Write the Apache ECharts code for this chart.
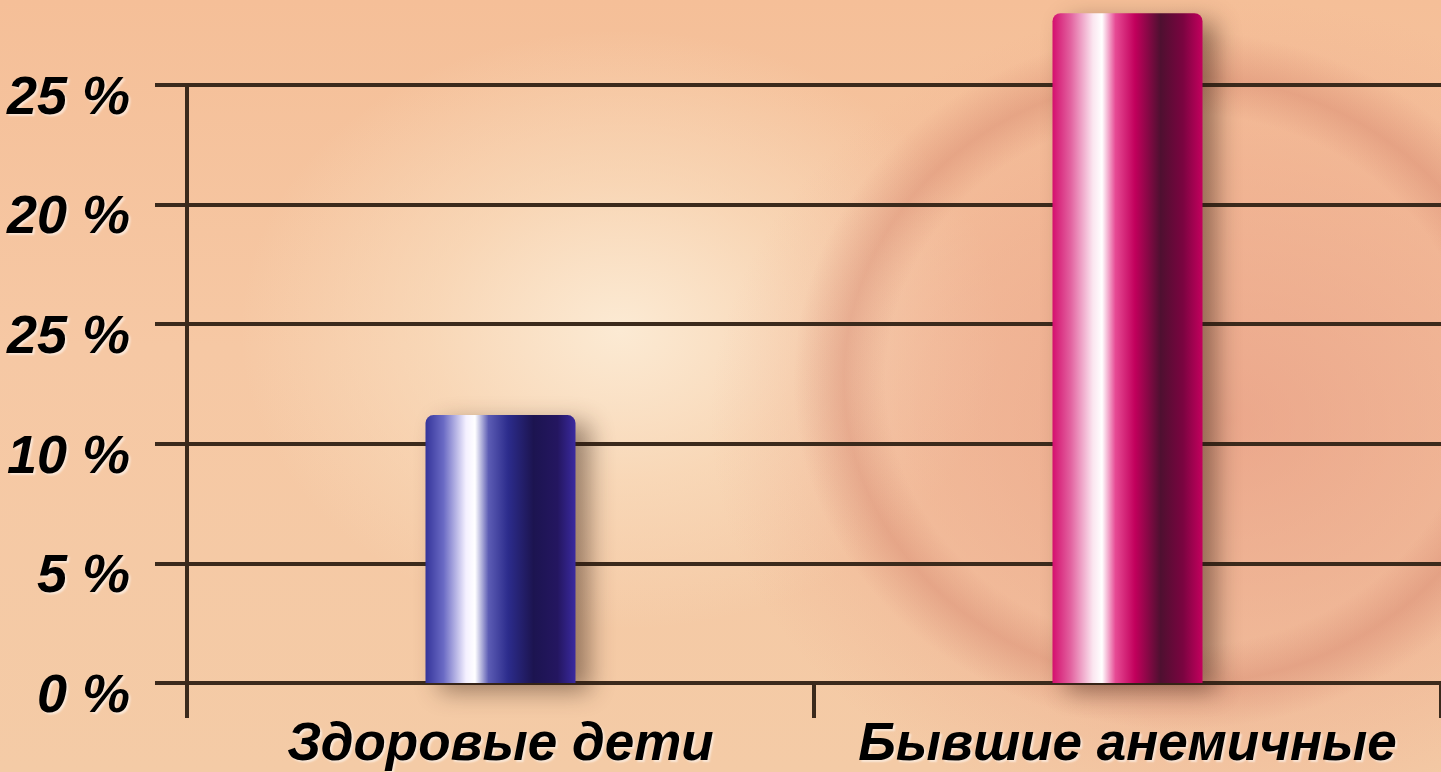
<!DOCTYPE html>
<html>
<head>
<meta charset="utf-8">
<style>
  html, body { margin: 0; padding: 0; }
  #chart {
    width: 1441px; height: 772px;
    background:
      radial-gradient(ellipse 420px 380px at 1180px 380px, rgba(215,120,110,0.0) 70%, rgba(200,110,90,0.3) 80%, rgba(230,150,120,0) 92%),
      radial-gradient(ellipse 520px 420px at 1230px 420px, rgba(225,135,115,0.5) 0%, rgba(232,150,125,0.32) 60%, rgba(240,175,140,0) 100%),
      radial-gradient(ellipse 380px 300px at 620px 330px, rgba(252,236,214,0.95) 0%, rgba(250,225,195,0.6) 50%, rgba(246,200,165,0) 100%),
      linear-gradient(180deg, #f5bf98 0%, #f6c8a4 45%, #f4cba6 100%);
  }
</style>
<script src="https://cdn.jsdelivr.net/npm/echarts@6/dist/echarts.min.js"></script>
</head>
<body>
<div id="chart"></div>
<script>
// категории и значения
var groups = ['Здоровые дети', 'Бывшие анемичные'];
var percents = [11.2, 28];
// подписи оси как на слайде (третья подпись с опечаткой)
var tickLabels = ['0 %', '5 %', '10 %', '25 %', '20 %', '25 %'];
var tickValues = [0, 5, 10, 15, 20, 25];

var lineColor = '#3b2a1c';

function cylinder(stops) {
    return new echarts.graphic.LinearGradient(0, 0, 1, 0, stops.map(function (c) {
        return { offset: c[0], color: c[1] };
    }));
}

var blueBar = cylinder([
    [0, '#34349a'], [0.12, '#6a6ac4'], [0.27, '#f4f0ff'], [0.33, '#ffffff'],
    [0.42, '#5c5cb4'], [0.55, '#2c2c8c'], [0.72, '#1c1450'], [0.88, '#241660'], [1, '#3a2aa0']
]);
var pinkBar = cylinder([
    [0, '#d40f6e'], [0.12, '#e2619f'], [0.27, '#fbe6f0'], [0.33, '#ffffff'],
    [0.42, '#e64a94'], [0.55, '#c2005c'], [0.72, '#4e1030'], [0.87, '#7a0440'], [1, '#c4005e']
]);

var chart = echarts.init(document.getElementById('chart'), null, { renderer: 'canvas' });

var labelFont = {
    fontFamily: '"Liberation Sans", Arial, sans-serif',
    fontWeight: 'bold',
    fontStyle: 'italic',
    color: '#000',
    textShadowColor: 'rgba(255,255,255,0.55)',
    textShadowOffsetX: 2,
    textShadowOffsetY: 2,
    textShadowBlur: 2
};

var option = {
    backgroundColor: 'transparent',
    animation: false,
    grid: { left: 187, right: 0, top: 85, bottom: 83, containLabel: false },
    xAxis: {
        type: 'category',
        data: groups,
        boundaryGap: true,
        axisLine: { lineStyle: { color: lineColor, width: 4 } },
        axisTick: { show: true, length: 35, lineStyle: { color: lineColor, width: 4 } },
        axisLabel: Object.assign({ fontSize: 53, margin: 36, interval: 0, hideOverlap: false }, labelFont)
    },
    yAxis: {
        type: 'value',
        min: 0,
        max: 25,
        interval: 5,
        axisLine: { show: true, lineStyle: { color: lineColor, width: 4 } },
        axisTick: { show: true, length: 32, lineStyle: { color: lineColor, width: 4 } },
        splitLine: { lineStyle: { color: lineColor, width: 4 } },
        axisLabel: Object.assign({
            fontSize: 54,
            margin: 57,
            formatter: function (v) {
                var i = tickValues.indexOf(v);
                return i >= 0 ? '{t|' + tickLabels[i] + '}' : '';
            },
            rich: {
                t: Object.assign({ fontSize: 54, padding: [28, 0, 0, 0] }, labelFont)
            }
        }, labelFont)
    },
    series: [{
        type: 'bar',
        clip: false,
        barWidth: 150,
        data: percents.map(function (v, i) {
            return {
                value: v,
                itemStyle: {
                    color: i === 0 ? blueBar : pinkBar,
                    borderRadius: [8, 8, 0, 0],
                    shadowColor: 'rgba(40,20,10,0.45)',
                    shadowBlur: 24,
                    shadowOffsetX: 14,
                    shadowOffsetY: 8
                }
            };
        })
    }]
};
chart.setOption(option);
</script>
</body>
</html>
